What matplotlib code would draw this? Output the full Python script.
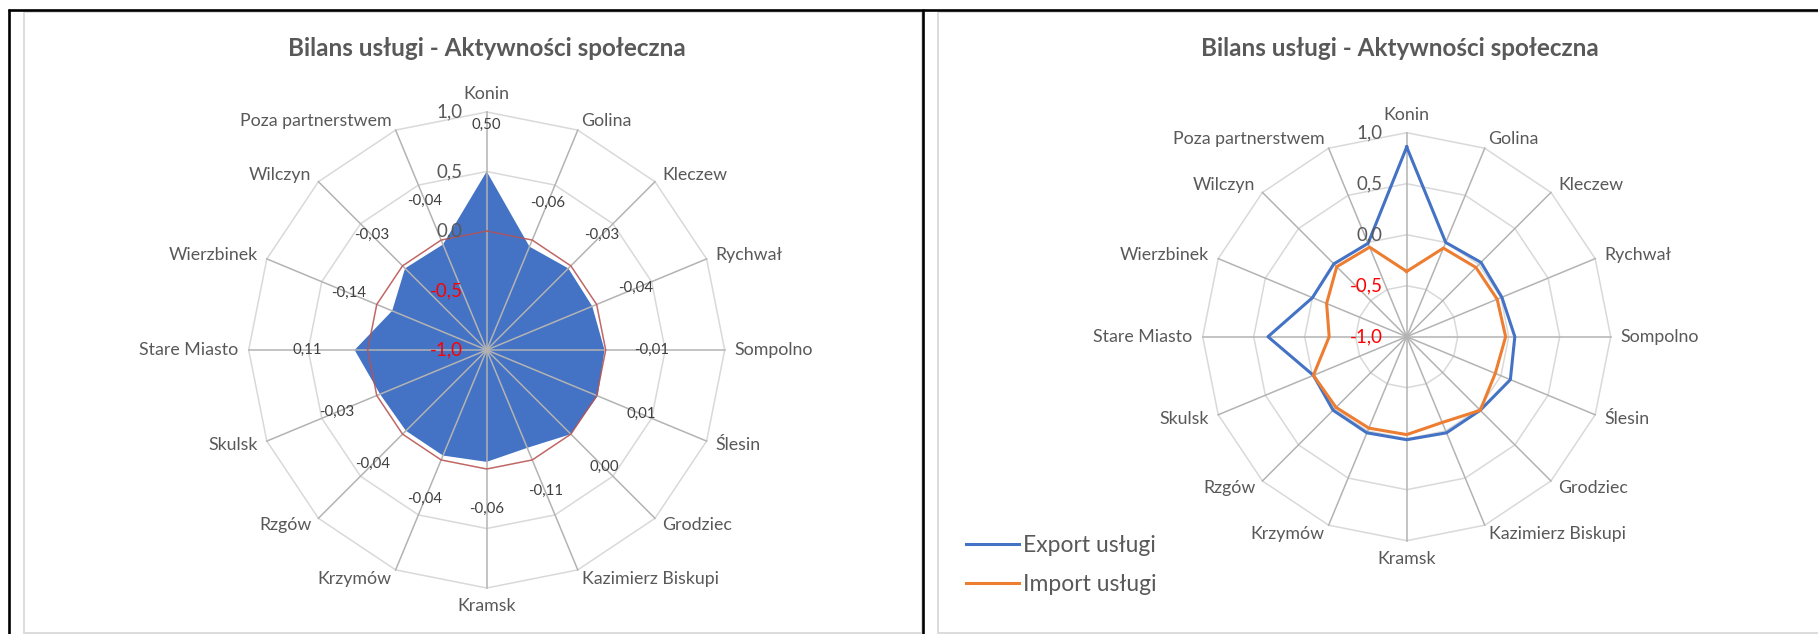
import numpy as np
import matplotlib
matplotlib.use("Agg")
import matplotlib.pyplot as plt
from matplotlib.patches import Rectangle

plt.rcParams['font.family'] = ['Lato', 'DejaVu Sans']

# ---------------- data ----------------
categories = ['Konin', 'Golina', 'Kleczew', 'Rychwał', 'Sompolno', 'Ślesin', 'Grodziec',
              'Kazimierz Biskupi', 'Kramsk', 'Krzymów', 'Rzgów', 'Skulsk', 'Stare Miasto',
              'Wierzbinek', 'Wilczyn', 'Poza partnerstwem']
bilans = [0.50, -0.06, -0.03, -0.04, -0.01, 0.01, 0.00, -0.11, -0.06, -0.04, -0.04,
          -0.03, 0.11, -0.14, -0.03, -0.04]
zero_line = [0.0] * 16
export_uslugi = [0.86, 0.00, 0.03, 0.01, 0.06, 0.10, 0.02, 0.02, 0.01, 0.02, 0.02,
                 -0.01, 0.36, 0.00, 0.01, -0.01]
import_uslugi = [-0.36, -0.06, -0.04, -0.04, -0.03, -0.06, 0.02, -0.09, -0.04, -0.03,
                 -0.02, -0.01, -0.24, -0.15, -0.03, -0.05]
ring_values = [-1.0, -0.5, 0.0, 0.5, 1.0]
ring_labels = ['-1,0', '-0,5', '0,0', '0,5', '1,0']
title = 'Bilans usługi - Aktywności społeczna'
series_names = ['Export usługi', 'Import usługi']

# ---------------- figure ----------------
W, H = 1818, 634
DPI = 100
fig = plt.figure(figsize=(W / DPI, H / DPI), dpi=DPI)
fig.patch.set_facecolor('white')

TXT = '#595959'
RING = '#D9D9D9'
SPOKE = '#B3B3B3'
BLUE = '#4472C4'
ORANGE = '#ED7D31'

def fx(x):
    return x / W

def fy(y):
    return 1 - y / H

# page decorations (table borders + chart frames)
deco = fig.add_axes([0, 0, 1, 1])
deco.set_xlim(0, W)
deco.set_ylim(H, 0)
deco.axis('off')
deco.add_patch(Rectangle((23.5, 11.5), 898, 621, fill=False, ec=RING, lw=1.3, zorder=1))
deco.add_patch(Rectangle((938, 11.5), 900, 621, fill=False, ec=RING, lw=1.3, zorder=1))
deco.plot([8, W], [10, 10], color='black', lw=1.9, solid_capstyle='butt', zorder=2)
deco.plot([9, 9], [9, H], color='black', lw=1.9, solid_capstyle='butt', zorder=2)
deco.plot([923, 923], [9, H], color='black', lw=1.9, solid_capstyle='butt', zorder=2)

n = len(categories)
theta = np.arange(n) * 2 * np.pi / n


def closed(vals):
    v = list(vals)
    return np.append(theta, theta[0]), np.array(v + [v[0]])


def radar_axes(cx, cy, R):
    ax = fig.add_axes([fx(cx - R), fy(cy + R), 2 * R / W, 2 * R / H], projection='polar')
    ax.set_theta_zero_location('N')
    ax.set_theta_direction(-1)
    ax.set_ylim(-1, 1)
    ax.axis('off')
    # polygonal rings
    for rv in ring_values[1:]:
        t, r = closed([rv] * n)
        ax.plot(t, r, color=RING, lw=1.1, zorder=1, clip_on=False)
    return ax


def decorate(ax, spoke_z):
    for t in theta:
        ax.plot([t, t], [-1, 1], color=SPOKE, lw=1.1, zorder=spoke_z, clip_on=False)
    # category labels
    for t, name in zip(theta, categories):
        s, c = np.sin(t), np.cos(t)
        if abs(s) < 0.05:
            ha = 'center'
            va = 'bottom' if c > 0 else 'top'
        else:
            ha = 'left' if s > 0 else 'right'
            va = 'center'
        ax.annotate(name, (t, 1.0), xytext=(10 * s, 10 * c), textcoords='offset pixels',
                    ha=ha, va=va, fontsize=12.8, color=TXT, annotation_clip=False)
    # radial tick labels
    for rv, lab in zip(ring_values, ring_labels):
        col = '#FF0000' if rv < 0 else TXT
        ax.annotate(lab, (0, rv), xytext=(-24, 0), textcoords='offset pixels',
                    ha='right', va='center', fontsize=13.5, color=col,
                    annotation_clip=False, zorder=6)


# ---------------- left chart ----------------
axL = radar_axes(486.7, 350, 238)
t, r = closed(bilans)
axL.fill(t, r, color=BLUE, zorder=2, lw=0)
t, r = closed(zero_line)
axL.plot(t, r, color='#C0504D', lw=1.0, zorder=4, alpha=0.85)
decorate(axL, 3)
for tt, v in zip(theta, bilans):
    s, c = np.sin(tt), np.cos(tt)
    lab = f'{v:.2f}'.replace('.', ',')
    if lab == '-0,00':
        lab = '0,00'
    axL.annotate(lab, (tt, v), xytext=(47 * s, 47 * c), textcoords='offset pixels',
                 ha='center', va='center', fontsize=10.8, color='#404040',
                 annotation_clip=False, zorder=7)
fig.text(fx(486.5), fy(49), title, ha='center', va='center', fontsize=17.5,
         fontweight='bold', color=TXT)

# ---------------- right chart ----------------
axR = radar_axes(1406.7, 336.7, 204)
decorate(axR, 2)
t, r = closed(export_uslugi)
lE, = axR.plot(t, r, color=BLUE, lw=2.2, zorder=4, label=series_names[0])
t, r = closed(import_uslugi)
lI, = axR.plot(t, r, color=ORANGE, lw=2.2, zorder=5, label=series_names[1])
fig.text(fx(1400), fy(49), title, ha='center', va='center', fontsize=17.5,
         fontweight='bold', color=TXT)

fig.legend(handles=[lE, lI], labels=series_names, loc='center left',
           bbox_to_anchor=(fx(966), fy(565)), frameon=False, fontsize=16.5,
           handlelength=2.3, handletextpad=0.2, labelspacing=0.8,
           borderpad=0, borderaxespad=0, labelcolor=TXT)

fig.savefig('out.png', dpi=DPI, facecolor='white')
